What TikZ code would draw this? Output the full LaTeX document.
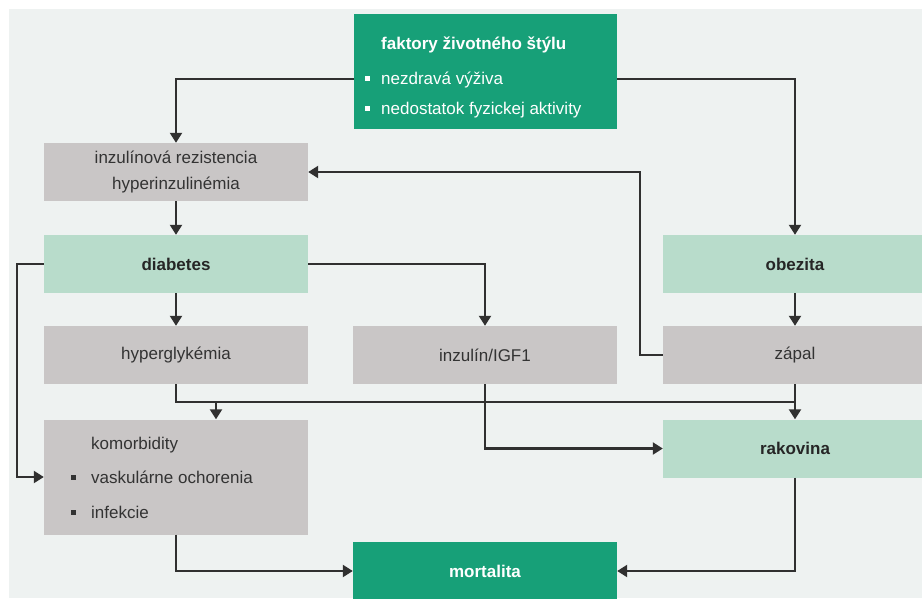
\documentclass[tikz,border=0pt]{standalone}
\usepackage{fontspec}
\setmainfont{Liberation Sans}
\usetikzlibrary{arrows.meta}
\definecolor{bg}{HTML}{EEF2F1}
\definecolor{dgreen}{HTML}{17A078}
\definecolor{lgreen}{HTML}{B8DCCB}
\definecolor{greybox}{HTML}{C9C6C6}
\definecolor{txt}{HTML}{333333}
\definecolor{ln}{HTML}{303030}
\begin{document}
\begin{tikzpicture}[x=1pt,y=-1pt,
  box/.style={minimum width=264pt, minimum height=58pt, inner sep=0pt, anchor=center,
    font=\fontsize{17}{27}\selectfont, text=txt, align=center},
  greyb/.style={box, fill=greybox},
  lgb/.style={box, fill=lgreen, font=\fontsize{17}{27}\selectfont\bfseries, text=black!85},
  dgb/.style={box, fill=dgreen, font=\fontsize{17}{27}\selectfont\bfseries, text=white},
  conn/.style={draw=ln, line width=2.2pt},
  arr/.style={conn, -{Triangle[width=12pt,length=10pt]}},
  lbl/.style={anchor=base west, inner sep=0pt, font=\fontsize{17}{20}\selectfont},
  bul/.style={anchor=center, inner sep=0pt, minimum size=5pt, fill=#1}
]
\useasboundingbox (0,0) rectangle (922,598);
\fill[white] (0,0) rectangle (922,598);
\fill[bg] (9,9) rectangle (922,598);

% nodes
\node[dgb, minimum width=263pt, minimum height=115pt] (fak) at (485.5,71.5) {};
\node[lbl, text=white, font=\fontsize{17}{20}\selectfont\bfseries] (fakt) at (381,49) {faktory životného štýlu};
\node[bul=white] (fb1) at (367,78) {};
\node[lbl, text=white] (fak1) at (381,84) {nezdravá výživa};
\node[bul=white] (fb2) at (367,108) {};
\node[lbl, text=white] (fak2) at (381,114) {nedostatok fyzickej aktivity};

\node[greyb] (inz) at (176,172) {inzulínová rezistencia\\hyperinzulinémia};
\node[lgb] (dia) at (176,264) {diabetes};
\node[lgb] (obe) at (795,264) {obezita};
\node[greyb] (hyp) at (176,355) {hyperglykémia};
\node[greyb] (igf) at (485,355) {inzulín/IGF1};
\node[greyb] (zap) at (795,355) {zápal};
\node[greyb, minimum height=115pt] (kom) at (176,477) {};
\node[lbl, text=txt] (komt) at (91,449) {komorbidity};
\node[bul=txt] (kb1) at (73,477) {};
\node[lbl, text=txt] (kom1) at (91,483) {vaskulárne ochorenia};
\node[bul=txt] (kb2) at (73,512) {};
\node[lbl, text=txt] (kom2) at (91,518) {infekcie};
\node[lgb] (rak) at (795,448.5) {rakovina};
\node[dgb] (mor) at (485,571) {mortalita};

% connectors
\coordinate (fl) at ([yshift=-7.5pt]fak.west);
\coordinate (fr) at ([yshift=-7.5pt]fak.east);
\draw[arr] (fl) -| (inz.north);
\draw[arr] (fr) -| (obe.north);
\draw[arr] (inz.south) -- (dia.north);
\draw[arr] (dia.south) -- (hyp.north);
\draw[arr] (dia.east) -| (igf.north);
\coordinate (dl) at (17,264);
\draw[arr] (dia.west) -- (dl) |- (kom.west);
\draw[arr] (obe.south) -- (zap.north);
\coordinate (zl) at (640,355);
\draw[arr] (zap.west) -- (zl) |- (inz.east);
\coordinate (hb) at (176,402);
\coordinate (hr) at (795,402);
\coordinate (hk) at (216,402);
\draw[conn] (hyp.south) -- (hb) -- (hr);
\draw[arr] (hk) -- (kom.north -| hk);
\draw[arr] (zap.south) -- (rak.north);
\draw[arr] (igf.south) |- (rak.west);
\draw[arr] (kom.south) |- (mor.west);
\draw[arr] (rak.south) |- (mor.east);
\end{tikzpicture}
\end{document}
